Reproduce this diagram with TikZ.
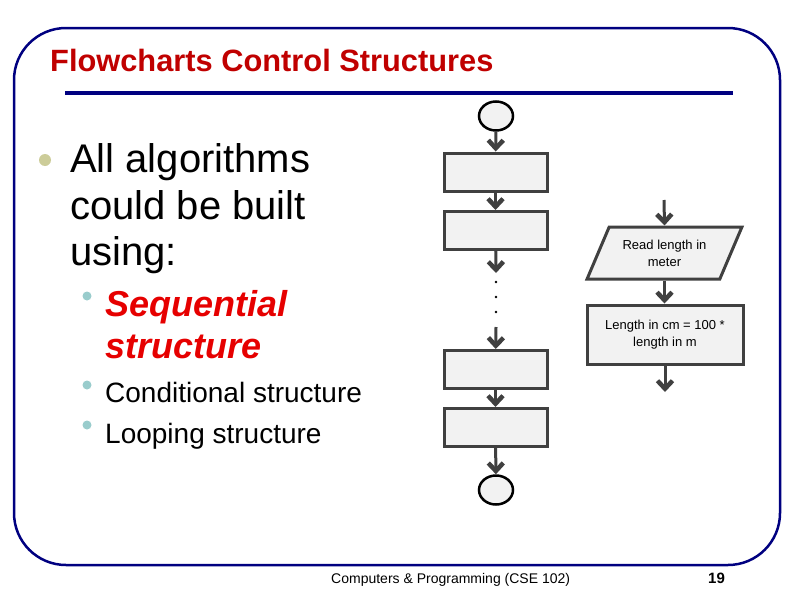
\documentclass[tikz,border=0pt]{standalone}
\usepackage{fontspec}
\setmainfont{Liberation Sans}
\usetikzlibrary{arrows.meta,shapes.geometric}
\definecolor{framenavy}{HTML}{000080}
\definecolor{titlered}{HTML}{C00000}
\definecolor{seqred}{HTML}{E60000}
\definecolor{boxgray}{HTML}{F2F2F2}
\definecolor{linegray}{HTML}{404040}
\definecolor{dotolive}{HTML}{CCCC99}
\definecolor{dotteal}{HTML}{99CCCC}
\tikzset{
  procbox/.style={rectangle, draw=linegray, line width=3pt, fill=boxgray,
    minimum width=103pt, minimum height=38pt, inner sep=2pt, align=center,
    font=\fontsize{13}{17}\selectfont},
  iobox/.style={trapezium, trapezium left angle=59, trapezium right angle=121,
    trapezium stretches=true, draw=linegray, line width=3pt, fill=boxgray,
    minimum width=155pt, minimum height=52pt, inner sep=1pt, align=center,
    font=\fontsize{13}{17}\selectfont},
  termnode/.style={ellipse, draw=black, line width=2.5pt, fill=boxgray,
    minimum width=34pt, minimum height=29pt, inner sep=0pt},
  flowarrow/.style={draw=linegray, line width=3pt,
    -{Straight Barb[length=8pt,width=15pt,line width=4.5pt]}},
  txt/.style={anchor=base west, inner sep=0pt},
}
\begin{document}
\begin{tikzpicture}[x=1pt,y=-1pt]
\useasboundingbox (0,0) rectangle (792,605);
% slide frame and title
\draw[framenavy, line width=2.5pt, rounded corners=52pt] (14,28) rectangle (780,565);
\node[txt, text=titlered, font=\fontsize{30.8}{36}\selectfont\bfseries] (title) at (50,71) {Flowcharts Control Structures};
\draw[framenavy, line width=3.5pt] (65,93) -- (733,93);
% bullets
\fill[dotolive] (45,160) circle (6pt);
\node[txt, font=\fontsize{40}{47}\selectfont] (l1) at (70,172) {All algorithms};
\node[txt, font=\fontsize{40}{47}\selectfont] (l2) at (70,219) {could be built};
\node[txt, font=\fontsize{40}{47}\selectfont] (l3) at (70,265) {using:};
\fill[dotteal] (87,296) circle (4.5pt);
\node[txt, text=seqred, font=\fontsize{36}{42}\selectfont\bfseries\itshape] (s1) at (105,316) {Sequential};
\node[txt, text=seqred, font=\fontsize{36}{42}\selectfont\bfseries\itshape] (s2) at (105,358) {structure};
\fill[dotteal] (87,385) circle (4.5pt);
\node[txt, font=\fontsize{28}{34}\selectfont] (c1) at (105,402) {Conditional structure};
\fill[dotteal] (87,425) circle (4.5pt);
\node[txt, font=\fontsize{28}{34}\selectfont] (c2) at (105,443) {Looping structure};
% left flowchart
\node[termnode] (start) at (496,116) {};
\node[procbox] (b1) at (495.5,172) {};
\node[procbox] (b2) at (495.5,230.5) {};
\coordinate (gapA) at (496,273);
\coordinate (gapB) at (496,327);
\node[procbox] (b3) at (495.5,369.5) {};
\node[procbox] (b4) at (495.5,427.5) {};
\node[termnode] (stop) at (496,490) {};
\draw[flowarrow] (start) -- (b1);
\draw[flowarrow] (b1) -- (b2);
\draw[flowarrow] (b2) -- (gapA);
\foreach \y in {282,297,312}
  \fill (496,\y) circle (1.3pt);
\draw[flowarrow] (gapB) -- (b3);
\draw[flowarrow] (b3) -- (b4);
\draw[flowarrow] (b4) -- (stop);
% right flowchart
\coordinate (inA) at (664,200);
\node[iobox] (read) at (664.5,253) {Read length in\\meter};
\node[procbox, minimum width=156pt, minimum height=59pt] (calc) at (665,334.5) {Length in cm = 100 *\\length in m};
\coordinate (outA) at (665,392);
\draw[flowarrow] (inA) -- (read.north);
\draw[flowarrow] (read.south) -- (read.south |- calc.north);
\draw[flowarrow] (calc) -- (outA);
% footer
\node[txt, font=\fontsize{14}{17}\selectfont] (foot) at (331,583) {Computers \& Programming (CSE 102)};
\node[txt, font=\fontsize{15}{18}\selectfont\bfseries] (page) at (708,583) {19};
\end{tikzpicture}
\end{document}
